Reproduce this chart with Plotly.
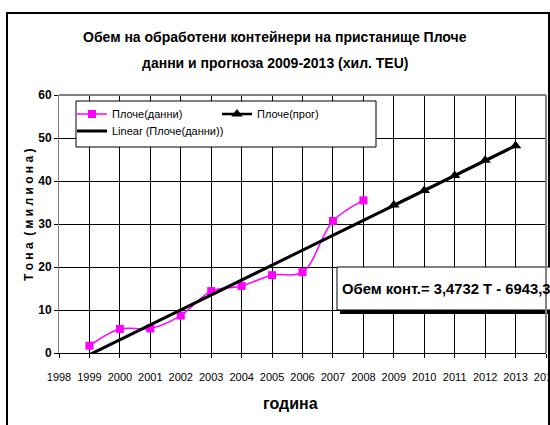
import plotly.graph_objects as go

# ---- data ----
years_data = [1999, 2000, 2001, 2002, 2003, 2004, 2005, 2006, 2007, 2008]
volume_data = [1.7, 5.6, 5.7, 8.7, 14.4, 15.6, 18.1, 18.8, 30.7, 35.5]
years_forecast = [2009, 2010, 2011, 2012, 2013]
volume_forecast = [34.4, 37.8, 41.3, 44.8, 48.2]
trend_years = [1999, 2013]
trend_values = [-0.4, 48.2]
x_ticks = list(range(1998, 2015))
y_ticks = [0, 10, 20, 30, 40, 50, 60]

title_line1 = "Обем на обработени контейнери на пристанище Плоче"
title_line2 = "данни и прогноза 2009-2013 (хил. TEU)"
equation_text = "Обем конт.= 3,4732 T - 6943,3"

W, H = 550, 425
L, R, T, B = 59, 546, 95, 353
FONT = "Liberation Sans, Arial, sans-serif"


def px(x):
    return (x - L) / (R - L)


def py(y):
    return (B - y) / (B - T)


fig = go.Figure()
fig.add_trace(go.Scatter(
    x=years_data, y=volume_data, name="Плоче(данни)", mode="lines+markers",
    line=dict(color="#FF00FF", width=1.5, shape="spline"),
    marker=dict(symbol="square", size=8, color="#FF00FF"),
    legend="legend",
))
fig.add_trace(go.Scatter(
    x=years_forecast, y=volume_forecast, name="Плоче(прог)", mode="lines+markers",
    line=dict(color="black", width=2.5),
    marker=dict(symbol="triangle-up", size=10, color="black"),
    legend="legend",
))
fig.add_trace(go.Scatter(
    x=trend_years, y=trend_values, name="Linear (Плоче(данни))", mode="lines",
    line=dict(color="black", width=3),
    legend="legend2",
))

shapes = [
    # outer chart frame
    dict(type="rect", xref="paper", yref="paper",
         x0=px(7), x1=px(549), y0=py(440), y1=py(13),
         line=dict(color="black", width=2), layer="below"),
    # legend box
    dict(type="rect", xref="paper", yref="paper",
         x0=px(76), x1=px(376), y0=py(147), y1=py(101),
         fillcolor="white", line=dict(color="black", width=1), layer="above"),
    # equation box shadow
    dict(type="rect", xref="paper", yref="paper",
         x0=px(340), x1=px(575), y0=py(314), y1=py(271),
         fillcolor="black", line=dict(width=0), layer="above"),
    # equation box
    dict(type="rect", xref="paper", yref="paper",
         x0=px(337), x1=px(572), y0=py(310), y1=py(267),
         fillcolor="white", line=dict(color="black", width=1), layer="above"),
    # gray plot border top/right
    dict(type="line", xref="paper", yref="paper", x0=0, x1=1, y0=1, y1=1,
         line=dict(color="#808080", width=2)),
    dict(type="line", xref="paper", yref="paper", x0=1, x1=1, y0=0, y1=1,
         line=dict(color="#808080", width=2)),
]

annotations = [
    dict(text="<b>" + title_line1 + "</b>", xref="paper", yref="paper",
         x=px(275), y=py(37), showarrow=False, xanchor="center", yanchor="middle",
         font=dict(family=FONT, size=14, color="black")),
    dict(text="<b>" + title_line2 + "</b>", xref="paper", yref="paper",
         x=px(275), y=py(63), showarrow=False, xanchor="center", yanchor="middle",
         font=dict(family=FONT, size=14, color="black")),
    dict(text="<b>Т о н а  ( м и л и о н а )</b>", xref="paper", yref="paper",
         x=px(29), y=py(215), showarrow=False, textangle=-90,
         xanchor="center", yanchor="middle",
         font=dict(family=FONT, size=12, color="black")),
    dict(text="<b>година</b>", xref="paper", yref="paper",
         x=px(290), y=py(403), showarrow=False, xanchor="center", yanchor="middle",
         font=dict(family=FONT, size=16, color="black")),
    dict(text="<b>" + equation_text + "</b>", xref="paper", yref="paper",
         x=px(340), y=py(289), showarrow=False, xanchor="left", yanchor="middle",
         font=dict(family=FONT, size=14.8, color="black")),
]

legend_common = dict(
    orientation="h", xanchor="left", yanchor="middle",
    bgcolor="rgba(0,0,0,0)", borderwidth=0,
    font=dict(family=FONT, size=11, color="black"),
    itemwidth=30,
)

fig.update_layout(
    width=W, height=H,
    margin=dict(l=L, r=W - R, t=T, b=H - B, autoexpand=False),
    paper_bgcolor="white", plot_bgcolor="white",
    showlegend=True,
    legend=dict(x=px(72), y=py(114), entrywidth=100, entrywidthmode="pixels",
                **legend_common),
    legend2=dict(x=px(72), y=py(131), **legend_common),
    shapes=shapes, annotations=annotations,
    font=dict(family=FONT, color="black"),
)
fig.update_xaxes(
    range=[1998, 2014], tickvals=x_ticks, ticktext=[str(v) for v in x_ticks],
    tickangle=0, ticklabelstandoff=10, ticklabeloverflow="allow",
    showgrid=True, gridcolor="black", gridwidth=1,
    showline=True, linecolor="black", linewidth=1, mirror=False,
    ticks="outside", ticklen=4, tickcolor="black",
    tickfont=dict(family=FONT, size=11, color="black"), zeroline=False,
)
fig.update_yaxes(
    range=[0, 60], tickvals=y_ticks, ticktext=["<b>%d</b>" % v for v in y_ticks],
    showgrid=True, gridcolor="black", gridwidth=1,
    showline=True, linecolor="#808080", linewidth=1,
    ticks="outside", ticklen=4, tickcolor="black",
    tickfont=dict(family=FONT, size=12, color="black"), zeroline=False,
)

fig.write_html("out.html", config={"displayModeBar": False},
               post_script="document.body.style.margin='0px';")
